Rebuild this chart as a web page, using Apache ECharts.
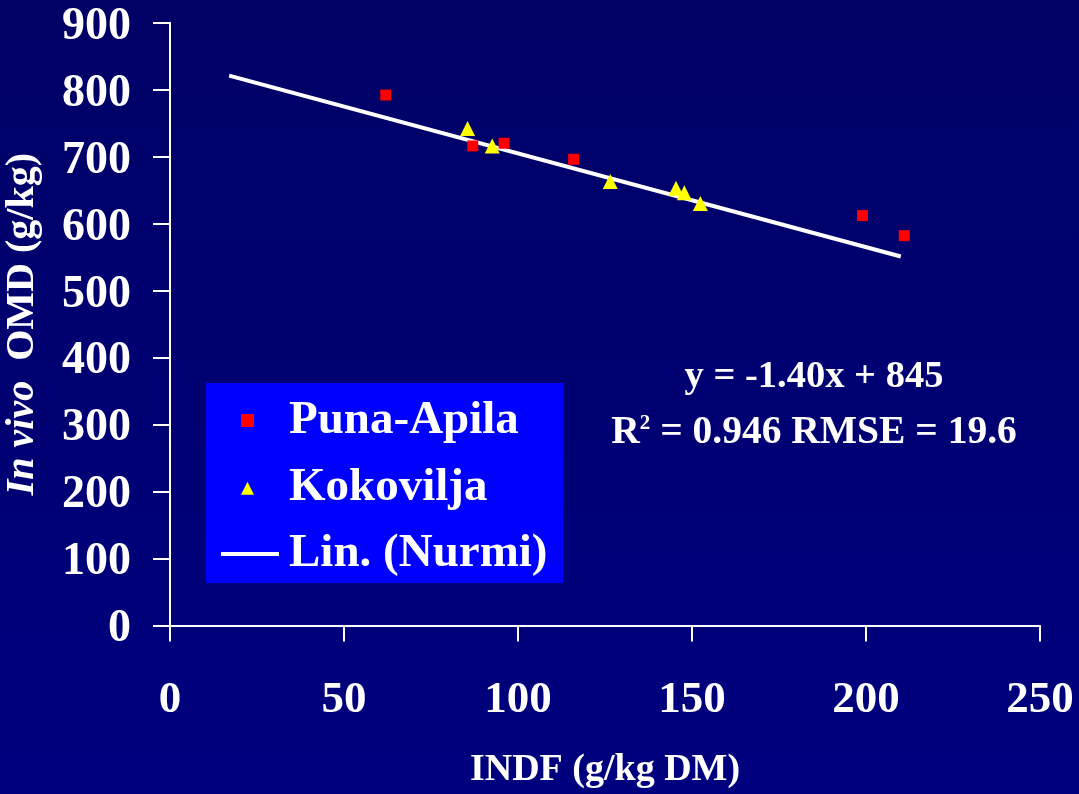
<!DOCTYPE html>
<html>
<head>
<meta charset="utf-8">
<script src="https://cdn.jsdelivr.net/npm/echarts@6/dist/echarts.min.js"></script>
<style>
html,body{margin:0;padding:0;background:#000066;}
#chart{width:1079px;height:794px;}
</style>
</head>
<body>
<div id="chart"></div>
<script>
// Data
const punaApila = [[62, 792], [87, 716], [96, 720], [116, 696], [199, 612], [211, 582]];
const kokovilja = [[85.5, 742], [92.6, 716], [126.5, 663], [145.4, 653], [147.8, 646], [152.4, 630]];
const linNurmi = [[17, 821], [210, 551]];
const xTicks = { min: 0, max: 250, interval: 50 };
const yTicks = { min: 0, max: 900, interval: 100 };
const equationText = 'y = -1.40x + 845';
const statsText = ['R', '2', ' = 0.946 RMSE = 19.6'];

const FONT = '"Liberation Serif", "Times New Roman", serif';
const chart = echarts.init(document.getElementById('chart'), null, { renderer: 'canvas' });

function legendText(padLeft) {
  return { color: '#fff', fontFamily: FONT, fontWeight: 'bold', fontSize: 47, lineHeight: 46, padding: [0, 0, 0, padLeft] };
}

chart.setOption({
  backgroundColor: {
    type: 'linear', x: 0, y: 0, x2: 0, y2: 1,
    colorStops: [{ offset: 0, color: '#000066' }, { offset: 1, color: '#00007f' }]
  },
  animation: false,
  grid: { left: 170, right: 39, top: 22.7, bottom: 168.5, containLabel: false, outerBoundsMode: 'none' },
  xAxis: {
    type: 'value', min: xTicks.min, max: xTicks.max, interval: xTicks.interval,
    name: 'INDF (g/kg DM)', nameLocation: 'middle', nameGap: 126,
    nameTextStyle: { color: '#fff', fontFamily: FONT, fontWeight: 'bold', fontSize: 38 },
    axisLine: { show: true, onZero: false, lineStyle: { color: '#fff', width: 2 } },
    axisTick: { show: true, inside: false, length: 16, lineStyle: { color: '#fff', width: 2 } },
    axisLabel: { color: '#fff', fontFamily: FONT, fontWeight: 'bold', fontSize: 45, margin: 52 },
    splitLine: { show: false }
  },
  yAxis: {
    type: 'value', min: yTicks.min, max: yTicks.max, interval: yTicks.interval,
    name: '{i|In vivo}  OMD (g/kg)', nameLocation: 'middle', nameGap: 127, nameRotate: 90,
    nameTextStyle: {
      color: '#fff', fontFamily: FONT, fontWeight: 'bold', fontSize: 40,
      rich: { i: { color: '#fff', fontFamily: FONT, fontWeight: 'bold', fontStyle: 'italic', fontSize: 40 } }
    },
    axisLine: { show: true, lineStyle: { color: '#fff', width: 2 } },
    axisTick: { show: true, inside: false, length: 17, lineStyle: { color: '#fff', width: 2 } },
    axisLabel: {
      color: '#fff', fontFamily: FONT, fontWeight: 'bold', fontSize: 46, margin: 39,
      formatter: '{v|{value}}',
      rich: { v: { color: '#fff', fontFamily: FONT, fontWeight: 'bold', fontSize: 46, padding: [8, 0, 0, 0] } }
    },
    splitLine: { show: false }
  },
  legend: [
    {
      left: 241, top: 397, orient: 'vertical', padding: 0,
      itemWidth: 13, itemHeight: 13, itemGap: 20.7,
      selectedMode: false, textStyle: legendText(30), z: 5,
      data: [
        { name: 'Puna-Apila', icon: 'rect', itemStyle: { color: '#ff0000', opacity: 1 } },
        { name: 'Kokovilja', icon: 'triangle', itemStyle: { color: '#ffff00', opacity: 1 } }
      ]
    },
    {
      left: 221, top: 530.4, orient: 'vertical', padding: 0,
      itemWidth: 58, itemHeight: 4,
      selectedMode: false, textStyle: legendText(5), z: 5,
      data: [
        { name: 'Lin. (Nurmi)', icon: 'rect', itemStyle: { color: '#ffffff', opacity: 1 } }
      ]
    }
  ],
  graphic: [
    {
      type: 'rect', z: 1,
      shape: { x: 206, y: 383, width: 357, height: 200 },
      style: { fill: '#0000ff' }
    },
    {
      type: 'text', x: 814, y: 377, z: 2,
      style: {
        text: equationText, fill: '#fff', font: 'bold 38.5px ' + FONT,
        align: 'center', verticalAlign: 'middle'
      }
    },
    {
      type: 'text', x: 814, y: 433, z: 2,
      style: {
        text: '{m|' + statsText[0] + '}{s|' + statsText[1] + '}{m|' + statsText[2] + '}',
        align: 'center', verticalAlign: 'middle',
        rich: {
          m: { fill: '#fff', fontFamily: FONT, fontWeight: 'bold', fontSize: 39.5, lineHeight: 39 },
          s: { fill: '#fff', fontFamily: FONT, fontWeight: 'bold', fontSize: 21, verticalAlign: 'top', lineHeight: 24 }
        }
      }
    }
  ],
  series: [
    {
      name: 'Puna-Apila', type: 'scatter', data: punaApila,
      symbol: 'rect', symbolSize: 11, itemStyle: { color: '#ff0000', opacity: 1 }, z: 3
    },
    {
      name: 'Kokovilja', type: 'scatter', data: kokovilja,
      symbol: 'triangle', symbolSize: 15, itemStyle: { color: '#ffff00', opacity: 1 }, z: 3
    },
    {
      name: 'Lin. (Nurmi)', type: 'line', data: linNurmi,
      symbol: 'none', showSymbol: false, itemStyle: { color: '#ffffff' },
      lineStyle: { color: '#ffffff', width: 4 }, z: 2
    }
  ]
});
</script>
</body>
</html>
